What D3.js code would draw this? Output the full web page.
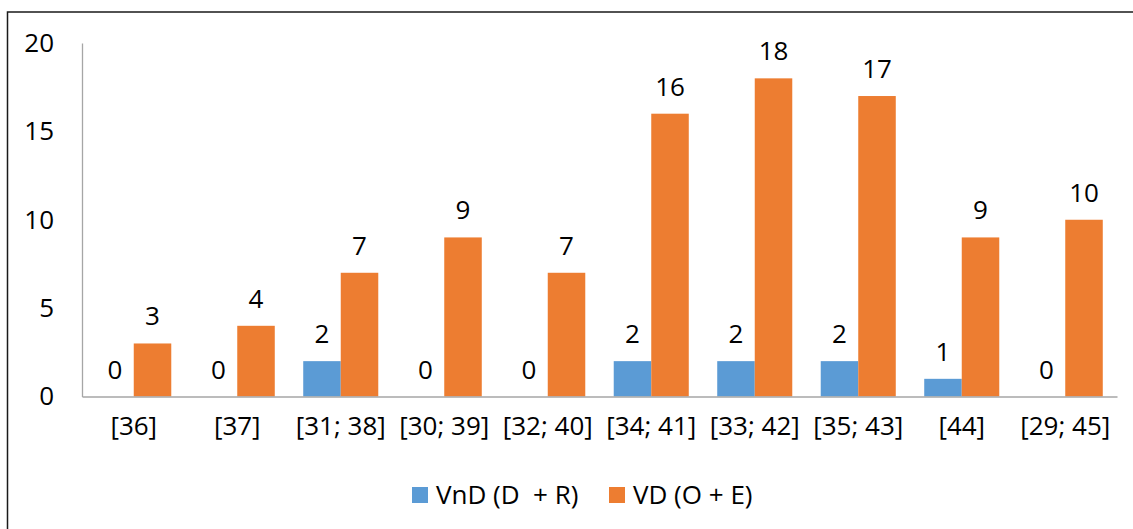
<!DOCTYPE html>
<html>
<head>
<meta charset="utf-8">
<script src="https://cdn.jsdelivr.net/npm/d3@7"></script>
<style>
  html, body { margin: 0; padding: 0; background: #fff; }
  svg { display: block; }
  text { font-family: "Open Sans", "Liberation Sans", sans-serif; fill: #000; }
</style>
</head>
<body>
<svg id="chart" width="1133" height="529"></svg>
<script>
const categories = ["[36]", "[37]", "[31; 38]", "[30; 39]", "[32; 40]", "[34; 41]", "[33; 42]", "[35; 43]", "[44]", "[29; 45]"];
const seriesNames = ["VnD (D  + R)", "VD (O + E)"];
const vnd = [0, 0, 2, 0, 0, 2, 2, 2, 1, 0];
const vd = [3, 4, 7, 9, 7, 16, 18, 17, 9, 10];
const yTicks = [0, 5, 10, 15, 20];
const colors = ["#5B9BD5", "#ED7D31"];

const svg = d3.select("#chart");
const W = 1133, H = 529;
const plotLeft = 82, plotRight = 1117, plotTop = 43, plotBottom = 396.5;
const FS = 26;
const FF = "'Open Sans', 'Liberation Sans', sans-serif";

// outer border (frame, cropped at right/bottom)
svg.append("rect")
  .attr("x", 7.5).attr("y", 12).attr("width", W + 10).attr("height", H + 10)
  .attr("fill", "none").attr("stroke", "#1a1a1a").attr("stroke-width", 1.5);

const x = d3.scaleBand().domain(categories).range([plotLeft, plotRight])
  .paddingInner(0.275).paddingOuter(0.1375);
const xs = d3.scaleBand().domain([0, 1]).range([0, x.bandwidth()]);
const y = d3.scaleLinear().domain([0, 20]).range([plotBottom, plotTop]);

// y axis
const yAxis = svg.append("g").attr("transform", `translate(${plotLeft},0)`)
  .call(d3.axisLeft(y).tickValues(yTicks).tickSize(0).tickPadding(28));
yAxis.select(".domain").attr("stroke", "#a6a6a6").attr("stroke-width", 1.3);
yAxis.selectAll("text").attr("font-size", FS).style("font-family", FF).attr("fill", "#000");

const data = categories.map((c, i) => ({ c, vals: [vnd[i], vd[i]] }));

const groups = svg.append("g").selectAll("g").data(data).join("g")
  .attr("transform", d => `translate(${x(d.c)},0)`);

groups.selectAll("rect").data(d => d.vals.map((v, k) => ({ v, k }))).join("rect")
  .attr("x", d => xs(d.k))
  .attr("width", xs.bandwidth())
  .attr("y", d => y(d.v))
  .attr("height", d => plotBottom - y(d.v))
  .attr("fill", d => colors[d.k]);

groups.selectAll("text").data(d => d.vals.map((v, k) => ({ v, k }))).join("text")
  .attr("x", d => xs(d.k) + xs.bandwidth() / 2)
  .attr("y", d => y(d.v) - 18)
  .attr("text-anchor", "middle")
  .attr("font-size", FS)
  .text(d => d.v);

// x axis
const xAxis = svg.append("g").attr("transform", `translate(0,${plotBottom})`)
  .call(d3.axisBottom(x).tickSize(0).tickPadding(20));
xAxis.select(".domain").attr("stroke", "#a6a6a6").attr("stroke-width", 1.3);
xAxis.selectAll("text").attr("font-size", FS).style("font-family", FF).attr("fill", "#000");

// legend
const legendItems = [
  { name: seriesNames[0], color: colors[0], sx: 412, tx: 436 },
  { name: seriesNames[1], color: colors[1], sx: 609, tx: 633 }
];
const lg = svg.append("g");
legendItems.forEach(it => {
  lg.append("rect").attr("x", it.sx).attr("y", 487).attr("width", 16).attr("height", 16).attr("fill", it.color);
  lg.append("text").attr("x", it.tx).attr("y", 495).attr("dy", "0.35em")
    .attr("font-size", FS).attr("xml:space", "preserve").style("white-space", "pre").text(it.name);
});
</script>
</body>
</html>
